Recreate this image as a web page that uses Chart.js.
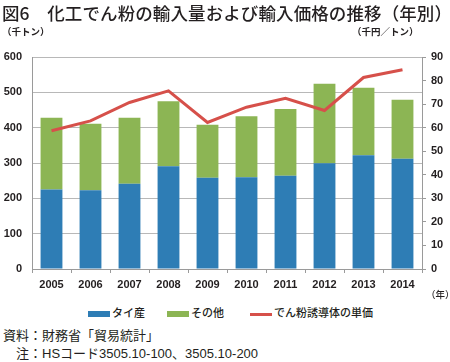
<!DOCTYPE html>
<html>
<head>
<meta charset="utf-8">
<script src="https://cdn.jsdelivr.net/npm/chart.js@4"></script>
<style>
  body { margin: 0; background: #fff; font-family: "Noto Sans CJK JP", sans-serif; color: #231f20; }
  #wrap { position: relative; width: 450px; height: 362px; overflow: hidden; }
  #chart { position: absolute; left: 0; top: 0; }
  .txt { position: absolute; white-space: nowrap; }
  .title { left: 2px; top: 0px; font-size: 17.5px; line-height: 26px; font-weight: 500; letter-spacing: 0.1px; }
  .unit { font-size: 9.5px; top: 24px; line-height: 14px; font-weight: 700; }
  .legend { top: 305px; font-size: 11px; line-height: 15px; font-weight: 500; }
  .sw { display: inline-block; vertical-align: middle; width: 22px; margin-right: 2px; }
  .note { left: 3px; font-size: 13px; line-height: 17px; font-family: "Liberation Sans", "Noto Sans CJK JP", sans-serif; }
</style>
</head>
<body>
<div id="wrap">
  <canvas id="chart" width="450" height="300"></canvas>
  <div class="txt title">図6　化工でん粉の輸入量および輸入価格の推移（年別）</div>
  <div class="txt unit" style="left:2px">（千トン）</div>
  <div class="txt unit" style="left:352px">（千円／トン）</div>
  <div class="txt unit" style="left:426px; top:287px; font-weight:500">（年）</div>
  <div class="txt legend" style="left:88px"><span class="sw" style="height:6px;background:#2e7db5"></span>タイ産</div>
  <div class="txt legend" style="left:167px"><span class="sw" style="height:6px;background:#8cb554"></span>その他</div>
  <div class="txt legend" style="left:250px"><span class="sw" style="height:3px;background:#d6504a"></span>でん粉誘導体の単価</div>
  <div class="txt note" style="top:327px">資料：財務省「貿易統計」</div>
  <div class="txt note" style="top:345px; left:16px">注：HSコード3505.10-100、3505.10-200</div>
</div>
<script>
// data
const years = ['2005', '2006', '2007', '2008', '2009', '2010', '2011', '2012', '2013', '2014'];
const thaiVolume = [225, 223, 241, 291, 258, 260, 264, 299, 322, 312];   // 千トン
const otherVolume = [203, 188, 187, 184, 150, 172, 189, 225, 191, 167];  // 千トン
const unitPrice = [58.7, 62.9, 70.7, 75.6, 62.2, 68.7, 72.5, 67.3, 81.3, 84.6]; // 千円/トン

const tickFont = { family: '"Liberation Sans", Arial, sans-serif', size: 11, weight: 'bold' };
const axisGray = '#9a9a9a';

new Chart(document.getElementById('chart'), {
    type: 'bar',
    data: {
        labels: years,
        datasets: [
            {
                type: 'line',
                label: 'でん粉誘導体の単価',
                data: unitPrice,
                yAxisID: 'y1',
                borderColor: '#d6504a',
                borderWidth: 3,
                pointRadius: 0,
                tension: 0,
                order: 0
            },
            {
                label: 'タイ産',
                data: thaiVolume,
                backgroundColor: '#2e7db5',
                yAxisID: 'y',
                barPercentage: 0.56,
                categoryPercentage: 1,
                order: 1
            },
            {
                label: 'その他',
                data: otherVolume,
                backgroundColor: '#8cb554',
                yAxisID: 'y',
                barPercentage: 0.56,
                categoryPercentage: 1,
                order: 1
            }
        ]
    },
    options: {
        responsive: false,
        animation: false,
        devicePixelRatio: 1,
        layout: { padding: { top: 57, left: 0, right: 0, bottom: 0 } },
        plugins: { legend: { display: false }, tooltip: { enabled: false } },
        scales: {
            x: {
                stacked: true,
                offset: true,
                grid: { drawOnChartArea: false, offset: true, tickLength: 4, color: axisGray },
                border: { color: axisGray },
                ticks: { padding: 5, color: '#231f20', font: tickFont, maxRotation: 0 },
                afterFit: s => { s.height = 31; }
            },
            y: {
                stacked: true,
                position: 'left',
                min: 0,
                max: 600,
                ticks: { stepSize: 100, padding: 10, color: '#231f20', font: tickFont },
                grid: { color: '#b8b8b8', drawTicks: false },
                border: { color: axisGray },
                afterFit: s => { s.width = 32; }
            },
            y1: {
                position: 'right',
                min: 0,
                max: 90,
                ticks: { stepSize: 10, padding: 5, color: '#231f20', font: tickFont },
                grid: { drawOnChartArea: false, tickLength: 4, color: axisGray },
                border: { color: axisGray },
                afterFit: s => { s.width = 28; }
            }
        }
    }
});
</script>
</body>
</html>
